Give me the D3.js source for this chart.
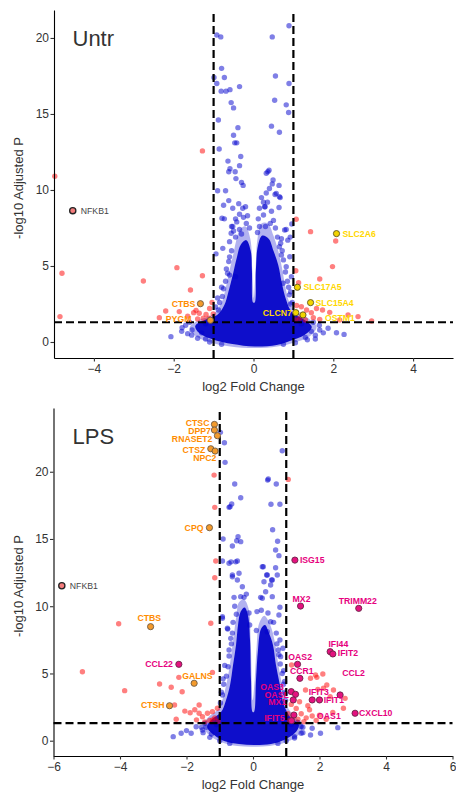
<!DOCTYPE html>
<meta charset="utf-8">
<script src="https://d3js.org/d3.v7.min.js"></script>
<style>
  body { margin: 0; background: #fff; }
  svg text { font-family: "Liberation Sans", Arial, sans-serif; }
</style>
<div id="my_dataviz"></div>

<script>
// ---------- values: [log2 fold change, -log10 adjusted P] ----------

// Untr panel
const untrBlue = [
  [-0.92,20.2],[-0.82,20.07],[0.47,20.07],[0.89,20.8],
  [-0.80,18.0],[-0.99,17.4],[-0.73,17.4],[-0.92,17.0],[0.55,17.5],[0.89,17.0],
  [-0.81,16.5],[-0.69,16.5],[-0.59,16.6],[-0.35,16.8],[-0.56,15.75],[-0.50,15.4],
  [0.53,15.9],[0.82,15.6],[0.88,15.1],[-0.88,14.6],[-0.39,14.1],[0.45,14.2],
  [-0.50,13.6],[0.65,13.8],[-0.42,13.1],[-0.47,13.1],[-0.86,12.7],[-0.32,12.2],
  [-0.64,11.9],[-0.59,11.4],[-0.62,11.2],[-0.46,11.2],[-0.44,10.75],[-0.30,10.5],
  [-0.26,10.3],[-0.35,11.6],[0.39,11.3],[0.32,11.1],[0.36,11.2],[0.47,10.4],[0.64,10.3],
  [0.40,10.1],[0.49,10.66],[0.32,9.8],[0.54,9.7],[0.67,9.5],[0.57,9.78],[0.65,9.56],
  [-0.90,9.95],[-0.70,9.95],[-0.62,9.3],[-0.75,9.0],[-0.52,8.8],[-0.37,9.1],[-0.27,8.8],
  [0.25,9.2],[0.29,8.9],[0.28,8.9],[0.64,8.85],[-0.73,8.1],[-0.79,8.14],[-0.25,8.2],
  [-0.55,7.6],[-0.52,7.6],[-0.56,7.15],[-0.35,7.4],[-0.18,7.8],[0.25,8.35],[0.42,7.8],
  [0.82,7.4],[0.78,7.37],[0.92,6.9],[0.96,7.76],[0.70,6.8],[0.86,6.7],[0.65,6.27],
  [0.70,5.72],[0.91,5.61],[0.82,4.95],[0.95,4.3],[0.74,3.86],[0.93,3.3],[0.97,2.6],
  [-0.77,6.16],[-0.60,5.6],[-0.65,4.52],[-0.45,4.3],[-0.60,4.4],[-0.94,5.8],
  [-0.80,3.6],[-0.90,2.9],[-0.95,2.3],[-0.45,6.9],[-0.30,7.1],[0.15,7.6],[0.12,8.1],
  [-0.60,6.6],[-0.55,6.0],[-0.62,5.3],[-0.68,4.8],[-0.70,4.0],[-0.75,3.5],[-0.78,3.0],
  [-0.85,2.6],[-0.88,2.1],[-0.50,7.3],[-0.42,7.9],[-0.35,8.4],[-0.20,8.9],[-0.15,8.3],
  [-0.10,7.5],[-0.45,8.1],[0.15,8.8],[0.20,9.5],[0.35,9.2],[0.45,8.6],[0.50,8.0],
  [0.55,7.5],[0.60,6.9],[0.68,6.5],[0.72,6.0],[0.75,5.4],[0.80,4.6],[0.85,4.0],
  [0.88,3.6],[0.90,3.1],[0.93,2.5],[0.10,7.2],[0.30,7.6],
  [-1.60,1.3],[-1.70,1.1],[-1.80,0.7],[-1.55,0.45],[-1.40,0.25],[-1.10,0.0],[-0.80,-0.15],
  [1.50,1.3],[1.65,1.1],[1.75,0.6],[1.55,0.45],[1.35,0.15],[1.05,-0.05],[0.75,-0.15],
  [-1.20,1.2],[1.20,1.2],
  [-1.79,0.94],[-2.07,0.35],[-1.54,0.79],[-1.65,0.55],[-1.30,0.6],[-1.20,0.2],
  [2.08,0.61],[2.27,0.5],[1.66,0.79],[1.87,0.9],[1.45,0.7],[1.30,0.3],[1.55,0.2]
];
const untrRed = [
  [1.07,8.07],[1.43,7.26],[2.06,6.64],[-4.98,10.9],[-1.28,12.57],
  [-4.80,4.52],[-2.76,4.01],[-1.92,4.89],[-1.58,3.42],[-1.28,4.36],[-4.85,1.67],
  [-2.36,1.6],[-2.2,2.04],[-1.86,2.0],[-1.50,1.93],[-1.44,2.08],[-1.36,1.89],
  [-1.19,1.82],[-1.12,1.56],[-1.26,1.56],[-1.40,1.51],[-1.01,1.84],[-1.04,2.6],
  [-1.65,1.7],[-1.10,2.2],
  [1.06,4.69],[1.66,4.14],[1.98,4.96],[1.13,3.9],[1.45,1.93],[1.66,1.49],[1.91,1.95],
  [2.37,1.78],[2.62,1.67],[2.96,1.38],[2.16,1.45],[1.73,2.1],[1.16,1.56],[1.2,2.32],
  [1.33,2.1],[1.58,2.2],[1.05,1.45],[1.30,1.45],[1.08,2.4],[1.50,1.6]
];
const untrLabeled = [
  ["NFKB1",-4.53,8.64,"base"],["SLC2A6",2.08,7.13,"lyso"],["CTBS",-1.33,2.52,"down"],
  ["PYGM",-1.08,1.43,"down"],["SLC17A5",1.10,3.6,"lyso"],["SLC15A4",1.43,2.59,"lyso"],
  ["CLCN7",1.06,1.93,"lyso"],["OSTM1",1.24,1.78,"lyso"]
];
// outline of the saturated point cloud near the origin
const untrCloud = [
  [-0.58,-0.3],[-1.05,-0.05],[-1.45,0.4],[-1.6,0.95],[-1.4,1.4],[-1.0,1.85],[-0.8,2.6],
  [-0.7,3.5],[-0.62,4.5],[-0.52,5.6],[-0.44,6.6],[-0.34,7.4],[-0.2,7.6],[-0.08,6.8],
  [-0.03,4.7],[0.01,2.9],[0.05,4.7],[0.10,6.8],[0.2,7.8],[0.36,7.8],[0.5,7.0],[0.62,6.0],
  [0.72,4.8],[0.8,3.6],[0.9,2.6],[1.05,2.05],[1.38,1.55],[1.58,1.0],[1.42,0.4],[1.0,-0.05],
  [0.6,-0.3],[0.03,-0.4]
];
const untrCore = [
  [-0.53,-0.13],[-0.98,0.13],[-1.36,0.59],[-1.46,1.05],[-1.23,1.45],[-0.91,1.78],
  [-0.73,2.43],[-0.63,3.29],[-0.52,4.41],[-0.42,5.53],[-0.32,6.4],[-0.18,6.7],
  [-0.07,6.0],[-0.04,4.74],[-0.01,2.6],[0.03,2.6],[0.06,4.74],[0.11,6.3],[0.22,7.0],
  [0.38,6.8],[0.50,6.0],[0.62,5.07],[0.72,3.75],[0.82,2.76],[0.96,1.97],[1.28,1.45],
  [1.46,0.99],[1.28,0.46],[0.91,0.07],[0.58,-0.2],[0.03,-0.3]
];

// LPS panel
const lpsBlue = [
  [-0.98,22.93],[-0.86,22.16],[0.88,21.56],[-0.84,20.7],[0.46,19.46],[-0.55,19.09],
  [0.44,19.38],[0.70,19.09],[-0.37,18.07],[-0.64,17.6],[-0.72,17.35],[-0.69,17.4],
  [0.54,17.58],[0.81,17.58],[0.59,15.69],[-0.9,15.0],[-0.45,15.17],[-0.49,14.87],
  [-0.37,14.8],[-0.62,14.48],[0.74,14.83],[0.68,14.18],[-0.92,13.36],[-0.72,13.19],
  [-0.66,13.3],[-0.47,13.36],[-0.52,13.3],[0.31,12.94],[0.28,12.94],[0.68,12.86],
  [0.78,13.76],[-0.62,12.19],[-0.62,12.32],[-0.42,12.45],[-0.47,11.95],[0.41,12.32],
  [0.43,12.32],[0.56,11.95],[0.58,11.95],[0.73,12.32],[0.33,11.82],[0.53,11.58],
  [-0.32,11.45],[0.38,11.08],[-0.37,10.71],[-0.57,10.66],[-0.27,10.66],[0.23,10.66],
  [0.28,10.59],[0.58,10.71],[0.81,9.92],[-0.92,9.22],[-0.92,9.1],[0.78,9.35],
  [0.53,8.85],[0.43,8.1],[0.81,7.49],[0.76,6.74],[0.83,6.25],[0.9,6.87],
  [-0.76,8.3],[-0.77,8.36],[-0.67,7.61],[-0.72,6.74],[-0.85,5.6],[-0.9,4.6],
  [-0.95,3.6],[0.92,5.2],[0.95,4.4],[0.98,3.5],
  [-0.55,10.0],[-0.50,9.4],[-0.60,8.8],[-0.62,8.0],[-0.65,7.2],[-0.72,6.3],[-0.75,5.5],
  [-0.80,4.8],[-0.88,4.2],[-0.92,3.4],[-0.98,2.8],[-0.20,10.9],[-0.12,9.5],[-0.10,8.6],
  [0.12,9.6],[0.25,9.7],[0.45,9.5],[0.62,8.8],[0.70,8.0],[0.72,7.2],[0.78,6.4],
  [0.82,5.7],[0.88,5.0],[0.92,4.2],[0.95,3.6],[0.98,3.0],[0.10,8.2],
  [-1.45,1.3],[-1.55,1.0],[-1.50,0.6],[-1.30,0.25],[-1.00,0.0],[-0.70,-0.2],
  [1.35,1.35],[1.50,1.0],[1.45,0.55],[1.25,0.2],[1.00,0.0],[0.75,-0.2],[-1.10,1.2],[1.15,1.2],
  [-2.16,0.55],[-1.86,0.55],[-1.52,0.8],[-1.71,1.04],[-1.4,1.0],[-2.0,0.75],
  [-2.4,0.3],[-1.25,0.5],[1.78,0.92],[1.73,0.42],[2.55,0.97],[2.03,0.55],[1.5,0.6],
  [1.45,1.05],[1.25,0.3]
];
const lpsRed = [
  [-1.17,19.75],[1.06,19.43],[-1.15,17.35],[-1.12,13.36],[-1.15,12.12],[-4.04,8.7],
  [-1.27,8.73],[-5.13,5.13],[-1.22,5.08],[-2.23,4.71],[-3.86,3.72],[-2.81,4.22],
  [-2.46,3.97],[-2.13,3.64],[-2.36,2.65],[-1.62,2.65],[-1.89,2.08],[-1.62,2.04],
  [-1.37,2.04],[-1.52,1.78],[-1.22,2.16],[-2.31,1.59],[-1.22,1.54],[-1.07,2.41],
  [-1.05,1.45],[-1.15,1.7],[-1.3,1.5],[-1.45,1.4],[-1.7,1.55],[-2.05,2.2],[-1.75,2.3],
  [1.16,5.63],[1.73,4.64],[1.92,4.71],[2.1,4.96],[1.88,4.88],[2.12,3.9],
  [2.32,3.27],[1.58,3.77],[1.53,1.41],[1.78,1.84],[2.22,4.14],[2.42,3.77],[2.72,2.41],
  [1.95,3.82],[2.77,3.15],[1.1,1.5],[1.2,1.8],[1.35,1.6],[1.45,2.0],[1.6,1.7],
  [1.7,2.3],[1.9,1.5],[2.0,1.9],[2.2,1.6],[2.4,2.1],[1.3,2.4],[1.05,2.0],[1.15,2.7],
  [1.4,2.9],[1.65,2.6]
];
const lpsLabeled = [
  ["NFKB1",-5.75,11.52,"base"],["CTSC",-1.16,23.52,"down"],["DPP7",-1.16,23.1,"down"],
  ["RNASET2",-1.07,22.68,"down"],["CTSZ",-1.27,21.71,"down"],["NPC2",-1.14,21.54,"down"],
  ["CPQ",-1.31,15.84,"down"],["CTBS",-3.08,8.48,"down"],["GALNS",-1.77,4.27,"down"],
  ["CTSH",-2.51,2.6,"down"],["CCL22",-2.23,5.68,"up"],["ISG15",1.26,13.43,"up"],
  ["MX2",1.43,10.01,"up"],["TRIMM22",3.18,9.84,"up"],["IFI44",2.32,6.62,"up"],
  ["IFIT2",2.40,6.45,"up"],["OAS2",1.34,5.68,"up"],["CCR1",1.41,4.64,"up"],
  ["CCL2",2.62,3.4,"up"],["OAS3",1.15,3.65,"up"],["OASL",1.28,3.45,"up"],
  ["MX1",1.21,3.03,"up"],["IFIT3",1.78,3.03,"up"],["IFIT1",2.0,3.03,"up"],
  ["IFIT5",1.23,1.91,"up"],["OAS1",1.16,1.49,"up"],["CXCL10",3.07,2.04,"up"]
];
const lpsCloud = [
  [-0.47,-0.4],[-0.95,-0.12],[-1.3,0.38],[-1.5,1.05],[-1.36,1.7],[-1.03,2.4],[-0.88,3.4],
  [-0.76,4.7],[-0.66,6.3],[-0.58,7.8],[-0.5,9.3],[-0.42,10.3],[-0.27,10.5],[-0.13,9.8],
  [-0.07,7.5],[-0.01,3.0],[0.05,4.5],[0.11,7.0],[0.18,8.7],[0.34,9.3],[0.52,8.6],[0.66,7.3],
  [0.76,5.7],[0.87,4.2],[1.0,2.7],[1.25,1.8],[1.5,1.2],[1.38,0.45],[1.0,-0.1],[0.5,-0.4],
  [0.02,-0.45]
];
const lpsCore = [
  [-0.42,-0.25],[-0.87,-0.02],[-1.17,0.42],[-1.38,1.02],[-1.26,1.54],[-0.96,2.13],
  [-0.81,3.03],[-0.69,4.14],[-0.60,5.63],[-0.51,7.12],[-0.45,8.6],[-0.37,9.6],
  [-0.25,9.9],[-0.15,9.3],[-0.09,7.49],[-0.06,4.51],[-0.01,2.13],[0.03,2.13],
  [0.09,4.51],[0.15,6.74],[0.24,8.3],[0.36,8.6],[0.48,8.0],[0.60,7.12],[0.69,5.63],
  [0.81,4.14],[0.93,2.65],[1.14,1.69],[1.38,1.17],[1.26,0.57],[0.93,0.05],[0.54,-0.25],
  [0.03,-0.32]
];

// cut-offs and ticks
const fcCut = [-1, 1];
const pCut = 1.3;
const untrXTicks = [-4, -2, 0, 2, 4];
const lpsXTicks = [-6, -4, -2, 0, 2, 4, 6];
const yTicks = [0, 5, 10, 15, 20];

// label placement (pixel offsets from the point) - layout only
const labelPos = {
  untr: {
    NFKB1:[8,0,"start"], SLC2A6:[6,0,"start"], CTBS:[-5,0,"end"], PYGM:[-19,-1,"end"],
    SLC17A5:[6,0,"start"], SLC15A4:[5,0,"start"], CLCN7:[-4,0,"end"], OSTM1:[22,3,"start"]
  },
  lps: {
    NFKB1:[8,0,"start"], CTSC:[-5,-1.5,"end"], DPP7:[-3.5,1,"end"], RNASET2:[-5,3.5,"end"],
    CTSZ:[-5.5,1.3,"end"], NPC2:[1.3,7.3,"end"], CPQ:[-6,0,"end"], CTBS:[-1.3,-9,"middle"],
    GALNS:[3.3,-7.3,"middle"], CTSH:[-5,-0.7,"end"], CCL22:[-6,0,"end"], ISG15:[5,0,"start"],
    MX2:[1,-6.7,"middle"], TRIMM22:[-1,-7.3,"middle"], IFI44:[-1.7,-7.3,"start"],
    IFIT2:[5,-1.3,"start"], OAS2:[2.6,-7.3,"middle"], CCR1:[2,-7.6,"middle"], CCL2:[13.4,-21.7,"middle"],
    OAS3:[-7.4,-4.3,"end"], OASL:[-6.8,0.7,"end"], MX1:[-7,1.7,"end"], IFIT3:[-3.5,-7.7,"start"],
    IFIT1:[4.2,0,"start"], IFIT5:[-9.4,3.3,"end"], OAS1:[25.5,-5,"start"], CXCL10:[4,0,"start"]
  }
};

const groupFill = {base: "#F47C7C", down: "#F39A2C", up: "#E4127F", lyso: "#F2D400"};
const groupStroke = {base: "#222", down: "#6d5a44", up: "#6a2447", lyso: "#5e5420"};
const groupText = {base: "#444", down: "#FF8C00", up: "#E6007E", lyso: "#FFD700"};

const svg = d3.select("#my_dataviz")
  .append("svg")
  .attr("width", 456)
  .attr("height", 793);

function drawPanel(cfg) {
  const x = d3.scaleLinear().domain(cfg.xDomain).range(cfg.xRange);
  const y = d3.scaleLinear().domain(cfg.yDomain).range(cfg.yRange);
  const g = svg.append("g");

  const shape = d3.line().x(d => x(d[0])).y(d => y(d[1])).curve(d3.curveCatmullRomClosed);
  g.append("path").attr("d", shape(cfg.cloud)).attr("fill", "#0000CD").attr("fill-opacity", 0.3);
  g.append("path").attr("d", shape(cfg.core)).attr("fill", "#0000C8").attr("fill-opacity", 0.92);

  g.append("g").selectAll("circle").data(cfg.blue).join("circle")
    .attr("cx", d => x(d[0])).attr("cy", d => y(d[1])).attr("r", 2.7)
    .attr("fill", "#0000CD").attr("fill-opacity", 0.5);
  g.append("g").selectAll("circle").data(cfg.red).join("circle")
    .attr("cx", d => x(d[0])).attr("cy", d => y(d[1])).attr("r", 2.7)
    .attr("fill", "#FF0000").attr("fill-opacity", 0.5);

  // threshold lines
  g.selectAll(".vcut").data(fcCut).join("line")
    .attr("x1", d => x(d)).attr("x2", d => x(d))
    .attr("y1", cfg.yRange[0]).attr("y2", cfg.yRange[1])
    .attr("stroke", "#000").attr("stroke-width", 2.2).attr("stroke-dasharray", "8,4");
  g.append("line")
    .attr("x1", cfg.xRange[0]).attr("x2", cfg.xRange[1])
    .attr("y1", y(pCut)).attr("y2", y(pCut))
    .attr("stroke", "#000").attr("stroke-width", 2.2).attr("stroke-dasharray", "8,4");

  // axes
  const ax = g.append("g")
    .attr("transform", `translate(0,${cfg.yRange[0]})`)
    .call(d3.axisBottom(x).tickValues(cfg.xTicks).tickSize(3.5).tickSizeOuter(0).tickPadding(2.5));
  const ay = g.append("g")
    .attr("transform", `translate(${cfg.xRange[0]},0)`)
    .call(d3.axisLeft(y).tickValues(yTicks).tickSize(3.5).tickSizeOuter(0).tickPadding(1.5));
  [ax, ay].forEach(a => {
    a.select(".domain").attr("stroke", "#000").attr("stroke-width", 1.1);
    a.selectAll(".tick line").attr("stroke", "#333").attr("stroke-width", 1.1);
    a.selectAll(".tick text").attr("fill", "#333").style("font-size", "12px")
      .style("font-family", '"Liberation Sans", Arial, sans-serif');
  });

  // titles
  g.append("text").attr("x", (cfg.xRange[0] + cfg.xRange[1]) / 2).attr("y", cfg.yRange[0] + 32.5)
    .attr("text-anchor", "middle").attr("fill", "#333").style("font-size", "13px")
    .text("log2 Fold Change");
  g.append("text")
    .attr("transform", `translate(22.6,${(cfg.yRange[0] + cfg.yRange[1]) / 2 + 4}) rotate(-90)`)
    .attr("text-anchor", "middle").attr("fill", "#333").style("font-size", "13px")
    .text("-log10 Adjusted P");
  g.append("text").attr("x", 72.5).attr("y", cfg.yRange[1] + 36)
    .attr("fill", "#333").style("font-size", "22px").text(cfg.title);

  // labelled genes
  g.append("g").selectAll("circle").data(cfg.labeled).join("circle")
    .attr("cx", d => x(d[1])).attr("cy", d => y(d[2])).attr("r", 3.1)
    .attr("fill", d => groupFill[d[3]]).attr("stroke", d => groupStroke[d[3]])
    .attr("stroke-width", d => d[3] === "base" ? 1.3 : 0.9);
  g.append("g").selectAll("text").data(cfg.labeled).join("text")
    .attr("x", d => x(d[1]) + cfg.pos[d[0]][0])
    .attr("y", d => y(d[2]) + cfg.pos[d[0]][1])
    .attr("dy", "0.35em")
    .attr("text-anchor", d => cfg.pos[d[0]][2])
    .attr("fill", d => groupText[d[3]])
    .style("font-size", "8.7px")
    .style("font-weight", d => d[3] === "base" ? "normal" : "bold")
    .text(d => d[0]);
}

drawPanel({
  title: "Untr", xDomain: [-5, 5], xRange: [54, 453], yDomain: [-1.053, 21.84], yRange: [358, 10],
  xTicks: untrXTicks, blue: untrBlue, red: untrRed, labeled: untrLabeled,
  cloud: untrCloud, core: untrCore, pos: labelPos.untr
});
drawPanel({
  title: "LPS", xDomain: [-6, 6], xRange: [53.5, 452.5], yDomain: [-1.138, 24.74], yRange: [756, 408],
  xTicks: lpsXTicks, blue: lpsBlue, red: lpsRed, labeled: lpsLabeled,
  cloud: lpsCloud, core: lpsCore, pos: labelPos.lps
});
</script>
